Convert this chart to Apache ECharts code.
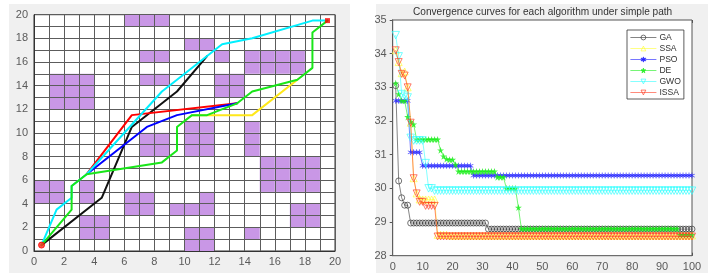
<!DOCTYPE html>
<html><head><meta charset="utf-8">
<style>html,body{margin:0;padding:0;background:#fff}#c{width:713px;height:280px;filter:blur(0.35px)}</style>
<script src="https://cdn.jsdelivr.net/npm/echarts@6/dist/echarts.min.js"></script>
</head><body><div id="c"></div>
<script>
// Obstacle cells: [col,row]
const obstacles = [
 [6,19],[7,19],[8,19],[10,17],[11,17],[7,16],[8,16],[12,16],
 [14,16],[15,16],[16,16],[17,16],[14,15],[15,15],[16,15],[17,15],
 [1,14],[2,14],[3,14],[1,13],[2,13],[3,13],[1,12],[2,12],[3,12],
 [7,14],[8,14],[12,14],[13,14],[12,13],[13,13],
 [10,10],[11,10],[10,9],[11,9],[10,8],[11,8],[14,10],[14,9],[14,8],
 [7,9],[8,9],[7,8],[8,8],
 [15,7],[16,7],[17,7],[18,7],[15,6],[16,6],[17,6],[18,6],[15,5],[16,5],[17,5],[18,5],
 [0,5],[1,5],[0,4],[1,4],[3,5],[3,4],
 [6,4],[7,4],[6,3],[7,3],[11,4],[9,3],[10,3],[11,3],
 [17,3],[18,3],[17,2],[18,2],[3,2],[4,2],[3,1],[4,1],
 [10,1],[11,1],[10,0],[11,0],[14,1]
];
// Paths
const pathYellow = [[10.5,11.5],[14.5,11.5],[17.5,14.5]];
const pathBlack = [[0.5,0.5],[4.5,4.5],[5,6],[6.5,10.5],[9.5,13.5],[11.5,16.5]];
const pathRed = [[3.5,6.5],[6.5,11.5],[13.5,12.5]];
const pathBlue = [[3.5,6.5],[7.5,10.5],[9.5,11.5],[13.5,12.5]];
const pathCyan = [[0.5,0.5],[1.5,3.5],[2.5,4.5],[2.5,5.5],[3.5,6.5],[8.5,13.5],[9.5,14.5],[11.5,16.5],[12.5,17.5],[14.5,18],[18.5,19.5],[19.5,19.5]];
const pathGreen = [[0.5,0.5],[2.5,3.5],[2.5,5.5],[3.5,6.5],[8.5,7.5],[9.5,8.5],[9.5,10.5],[10.5,11.5],[11.5,11.5],[13.5,12.5],[14.5,13.5],[17.5,14.5],[18.5,15.5],[18.5,18.5],[19.5,19.5]];
const startPoint = [[0.5,0.5]];
const endPoint = [[19.5,19.5]];

// Convergence curves, iterations 1..100
const iterations = [
 1,2,3,4,5,6,7,8,9,10,11,12,13,14,15,16,17,18,19,20,21,22,23,24,25,26,27,28,29,30,31,32,33,34,35,36,37,38,39,40,
 41,42,43,44,45,46,47,48,49,50,51,52,53,54,55,56,57,58,59,60,61,62,63,64,65,66,67,68,69,70,71,72,73,74,75,76,77,78,79,80,
 81,82,83,84,85,86,87,88,89,90,91,92,93,94,95,96,97,98,99,100];
const GA = [
 33.05,30.22,29.72,29.5,29.5,28.97,28.97,28.97,28.97,28.97,
 28.97,28.97,28.97,28.97,28.97,28.97,28.97,28.97,28.97,28.97,
 28.97,28.97,28.97,28.97,28.97,28.97,28.97,28.97,28.97,28.97,
 28.97,28.79,28.79,28.79,28.79,28.79,28.79,28.79,28.79,28.79,
 28.79,28.79,28.79,28.79,28.79,28.79,28.79,28.79,28.79,28.79,
 28.79,28.79,28.79,28.79,28.79,28.79,28.79,28.79,28.79,28.79,
 28.79,28.79,28.79,28.79,28.79,28.79,28.79,28.79,28.79,28.79,
 28.79,28.79,28.79,28.79,28.79,28.79,28.79,28.79,28.79,28.79,
 28.79,28.79,28.79,28.79,28.79,28.79,28.79,28.79,28.79,28.79,
 28.79,28.79,28.79,28.79,28.79,28.79,28.79,28.79,28.79,28.79];
const SSA = [
 34.1,33.75,33.42,33.47,33.0,31.95,30.3,29.85,29.67,29.67,
 29.67,29.67,29.67,29.67,28.62,28.62,28.62,28.62,28.6,28.6,
 28.6,28.6,28.6,28.6,28.6,28.6,28.6,28.6,28.6,28.6,
 28.6,28.6,28.6,28.6,28.6,28.6,28.6,28.6,28.6,28.6,
 28.6,28.6,28.6,28.6,28.6,28.6,28.6,28.6,28.6,28.6,
 28.6,28.6,28.6,28.6,28.6,28.6,28.6,28.6,28.6,28.6,
 28.6,28.6,28.6,28.6,28.6,28.6,28.6,28.6,28.6,28.6,
 28.6,28.6,28.6,28.6,28.6,28.6,28.6,28.6,28.6,28.6,
 28.6,28.6,28.6,28.6,28.6,28.6,28.6,28.6,28.6,28.6,
 28.6,28.6,28.6,28.6,28.6,28.6,28.6,28.6,28.6,28.6];
const PSO = [
 32.6,32.6,32.6,32.6,32.6,31.07,31.07,31.07,31.07,30.67,
 30.67,30.67,30.67,30.67,30.67,30.67,30.67,30.67,30.67,30.67,
 30.67,30.67,30.67,30.67,30.67,30.67,30.38,30.38,30.38,30.38,
 30.38,30.38,30.38,30.38,30.38,30.38,30.38,30.38,30.38,30.38,
 30.38,30.38,30.38,30.38,30.38,30.38,30.38,30.38,30.38,30.38,
 30.38,30.38,30.38,30.38,30.38,30.38,30.38,30.38,30.38,30.38,
 30.38,30.38,30.38,30.38,30.38,30.38,30.38,30.38,30.38,30.38,
 30.38,30.38,30.38,30.38,30.38,30.38,30.38,30.38,30.38,30.38,
 30.38,30.38,30.38,30.38,30.38,30.38,30.38,30.38,30.38,30.38,
 30.38,30.38,30.38,30.38,30.38,30.38,30.38,30.38,30.38,30.38];
const DE = [
 33.12,32.8,32.6,32.6,32.12,31.98,31.9,31.45,31.45,31.45,
 31.45,31.45,31.45,31.45,31.45,31.13,30.95,30.87,30.85,30.85,
 30.7,30.5,30.5,30.5,30.5,30.5,30.5,30.5,30.5,30.5,
 30.5,30.5,30.5,30.5,30.33,30.33,30.33,30.0,30.0,30.0,
 30.0,29.43,28.8,28.8,28.8,28.8,28.8,28.8,28.8,28.8,
 28.8,28.8,28.8,28.8,28.8,28.8,28.8,28.8,28.8,28.8,
 28.8,28.8,28.8,28.8,28.8,28.8,28.8,28.8,28.8,28.8,
 28.8,28.8,28.8,28.8,28.8,28.8,28.8,28.8,28.8,28.8,
 28.8,28.8,28.8,28.8,28.8,28.8,28.8,28.8,28.8,28.8,
 28.8,28.8,28.8,28.8,28.8,28.62,28.62,28.62,28.62,28.62];
const GWO = [
 34.55,33.92,32.8,32.75,32.7,31.5,31.42,31.42,31.42,31.42,
 30.75,30.0,30.0,29.93,29.93,29.93,29.93,29.93,29.93,29.93,
 29.93,29.93,29.93,29.93,29.93,29.93,29.93,29.93,29.93,29.93,
 29.93,29.93,29.93,29.93,29.93,29.93,29.93,29.93,29.93,29.93,
 29.93,29.93,29.93,29.93,29.93,29.93,29.93,29.93,29.93,29.93,
 29.93,29.93,29.93,29.93,29.93,29.93,29.93,29.93,29.93,29.93,
 29.93,29.93,29.93,29.93,29.93,29.93,29.93,29.93,29.93,29.93,
 29.93,29.93,29.93,29.93,29.93,29.93,29.93,29.93,29.93,29.93,
 29.93,29.93,29.93,29.93,29.93,29.93,29.93,29.93,29.93,29.93,
 29.93,29.93,29.93,29.93,29.93,29.93,29.93,29.93,29.93,29.93];
const ISSA = [
 34.1,33.75,33.4,33.35,33.0,31.95,30.3,29.85,29.6,29.6,
 29.48,29.48,29.48,29.48,28.57,28.57,28.57,28.57,28.57,28.57,
 28.57,28.57,28.57,28.57,28.57,28.57,28.57,28.57,28.57,28.57,
 28.57,28.57,28.57,28.57,28.57,28.57,28.57,28.57,28.57,28.57,
 28.57,28.57,28.57,28.57,28.57,28.57,28.57,28.57,28.57,28.57,
 28.57,28.57,28.57,28.57,28.57,28.57,28.57,28.57,28.57,28.57,
 28.57,28.57,28.57,28.57,28.57,28.57,28.57,28.57,28.57,28.57,
 28.57,28.57,28.57,28.57,28.57,28.57,28.57,28.57,28.57,28.57,
 28.57,28.57,28.57,28.57,28.57,28.57,28.57,28.57,28.57,28.57,
 28.57,28.57,28.57,28.57,28.57,28.57,28.57,28.57,28.57,28.57];
const titleText = 'Convergence curves for each algorithm under simple path';

const FONT = '"Liberation Sans", Arial, sans-serif';
const STAR = 'path://M50 0L62 35L100 35L69 57L81 95L50 72L19 95L31 57L0 35L38 35Z';
const AST = 'path://M45 0H55V38L88 19L93 28L60 50L93 72L88 81L55 62V100H45V62L12 81L7 72L40 50L7 28L12 19L45 38Z';
const pair = d => d.map((v,i)=>[iterations[i],v]);

function pathSeries(data,color,z){
  return {type:'line',xAxisIndex:0,yAxisIndex:0,data,symbol:'none',z,silent:true,
    lineStyle:{color,width:2,cap:'round',join:'round'}};
}
function curve(name,data,color,symbol,size,rot,filled,z){
  return {name,type:'line',xAxisIndex:1,yAxisIndex:1,data:pair(data),symbol,symbolSize:size,symbolRotate:rot,
    showAllSymbols:true,showSymbol:true,z,silent:true,animation:false,
    lineStyle:{color,width:0.8,opacity:0.75},
    itemStyle:filled?{color,borderColor:color,borderWidth:0,opacity:0.8}:{color:'rgba(255,255,255,0)',borderColor:color,borderWidth:0.8,opacity:0.85}};
}
const tickLabel = {color:'#5a5a5a',fontSize:11,fontFamily:FONT};
const option = {
  animation:false,
  backgroundColor:'#fff',
  graphic:[
    {type:'rect',z:-10,shape:{x:9,y:4,width:341,height:269},style:{fill:'#f0f0f0'}},
    {type:'rect',z:-10,shape:{x:376,y:4,width:332,height:269},style:{fill:'#f0f0f0'}}
  ],
  title:{text:titleText,left:413,top:7,padding:0,textStyle:{fontSize:10.1,fontWeight:'normal',color:'#333',fontFamily:FONT}},
  legend:{orient:'vertical',left:627,top:30,itemWidth:26,itemHeight:6,itemGap:2,padding:[3,3,2,3],
    backgroundColor:'#fff',borderColor:'#333',borderWidth:0.8,
    lineStyle:{width:0.8},itemStyle:{borderWidth:0.8},
    textStyle:{fontSize:8.6,color:'#333',fontFamily:FONT,padding:[0,0,0,-2]},
    data:['GA','SSA','PSO','DE','GWO','ISSA']},
  grid:[
    {left:34,top:14.7,width:301,height:236.3,backgroundColor:'#fff',show:true,borderColor:'#333',borderWidth:1,z:1},
    {left:392.7,top:20,width:299.3,height:235.7,backgroundColor:'#fff',show:true,borderColor:'#555',borderWidth:1,z:1}
  ],
  xAxis:[
    {type:'value',gridIndex:0,min:0,max:20,interval:1,z:3,
      axisLine:{show:true,lineStyle:{color:'#333'}},axisTick:{show:false},
      splitLine:{show:true,lineStyle:{color:'#5c5c5c',width:1}},
      axisLabel:{...tickLabel,margin:5,formatter:v=>v%2===0?String(v):''}},
    {type:'value',gridIndex:1,min:0,max:100,interval:10,
      axisLine:{show:true,lineStyle:{color:'#555'}},axisTick:{show:true,inside:true,length:3,lineStyle:{color:'#555'}},
      splitLine:{show:false},axisLabel:{...tickLabel,margin:6}},
    {type:'value',gridIndex:1,min:0,max:100,interval:10,position:'top',
      axisLine:{show:true,lineStyle:{color:'#555'}},axisTick:{show:true,inside:true,length:3,lineStyle:{color:'#555'}},
      splitLine:{show:false},axisLabel:{show:false}}
  ],
  yAxis:[
    {type:'value',gridIndex:0,min:0,max:20,interval:1,z:3,
      axisLine:{show:true,lineStyle:{color:'#333'}},axisTick:{show:false},
      splitLine:{show:true,lineStyle:{color:'#5c5c5c',width:1}},
      axisLabel:{...tickLabel,margin:6,formatter:v=>v%2===0?String(v):''}},
    {type:'value',gridIndex:1,min:28,max:35,interval:1,
      axisLine:{show:true,lineStyle:{color:'#555'}},axisTick:{show:true,inside:true,length:3,lineStyle:{color:'#555'}},
      splitLine:{show:false},axisLabel:{...tickLabel,margin:6}},
    {type:'value',gridIndex:1,min:28,max:35,interval:1,position:'right',
      axisLine:{show:true,lineStyle:{color:'#555'}},axisTick:{show:true,inside:true,length:3,lineStyle:{color:'#555'}},
      splitLine:{show:false},axisLabel:{show:false}}
  ],
  series:[
    {type:'custom',xAxisIndex:0,yAxisIndex:0,z:2,silent:true,data:obstacles,
      renderItem(params,api){
        const a=api.coord([api.value(0),api.value(1)+1]);
        const b=api.coord([api.value(0)+1,api.value(1)]);
        return {type:'rect',shape:{x:a[0],y:a[1],width:b[0]-a[0],height:b[1]-a[1]},style:{fill:'#c997e6'}};
      }},
    pathSeries(pathYellow,'#ffe81a',5),
    pathSeries(pathBlack,'#111',6),
    pathSeries(pathRed,'#ff0000',6),
    pathSeries(pathBlue,'#0000ff',7),
    pathSeries(pathCyan,'#00f0ff',8),
    pathSeries(pathGreen,'#19e619',9),
    {type:'scatter',xAxisIndex:0,yAxisIndex:0,data:startPoint,symbol:'circle',symbolSize:6,z:10,silent:true,
      itemStyle:{color:'#ff2a1a',borderColor:'#ff0000',borderWidth:1}},
    {type:'scatter',xAxisIndex:0,yAxisIndex:0,data:endPoint,symbol:'rect',symbolSize:5,z:10,silent:true,
      itemStyle:{color:'#ff0000'}},
    curve('GA',GA,'#333333','circle',6,0,false,5),
    curve('SSA',SSA,'#ffff33','triangle',7,0,false,5),
    curve('PSO',PSO,'#1a1aff',AST,6,0,true,6),
    curve('DE',DE,'#19ee19',STAR,7,0,true,7),
    curve('GWO',GWO,'#33ffff','triangle',7.5,180,false,8),
    curve('ISSA',ISSA,'#ff3b22','triangle',7,180,false,9)
  ]
};
const chart = echarts.init(document.getElementById('c'),null,{renderer:'canvas'});
chart.setOption(option);
</script></body></html>
